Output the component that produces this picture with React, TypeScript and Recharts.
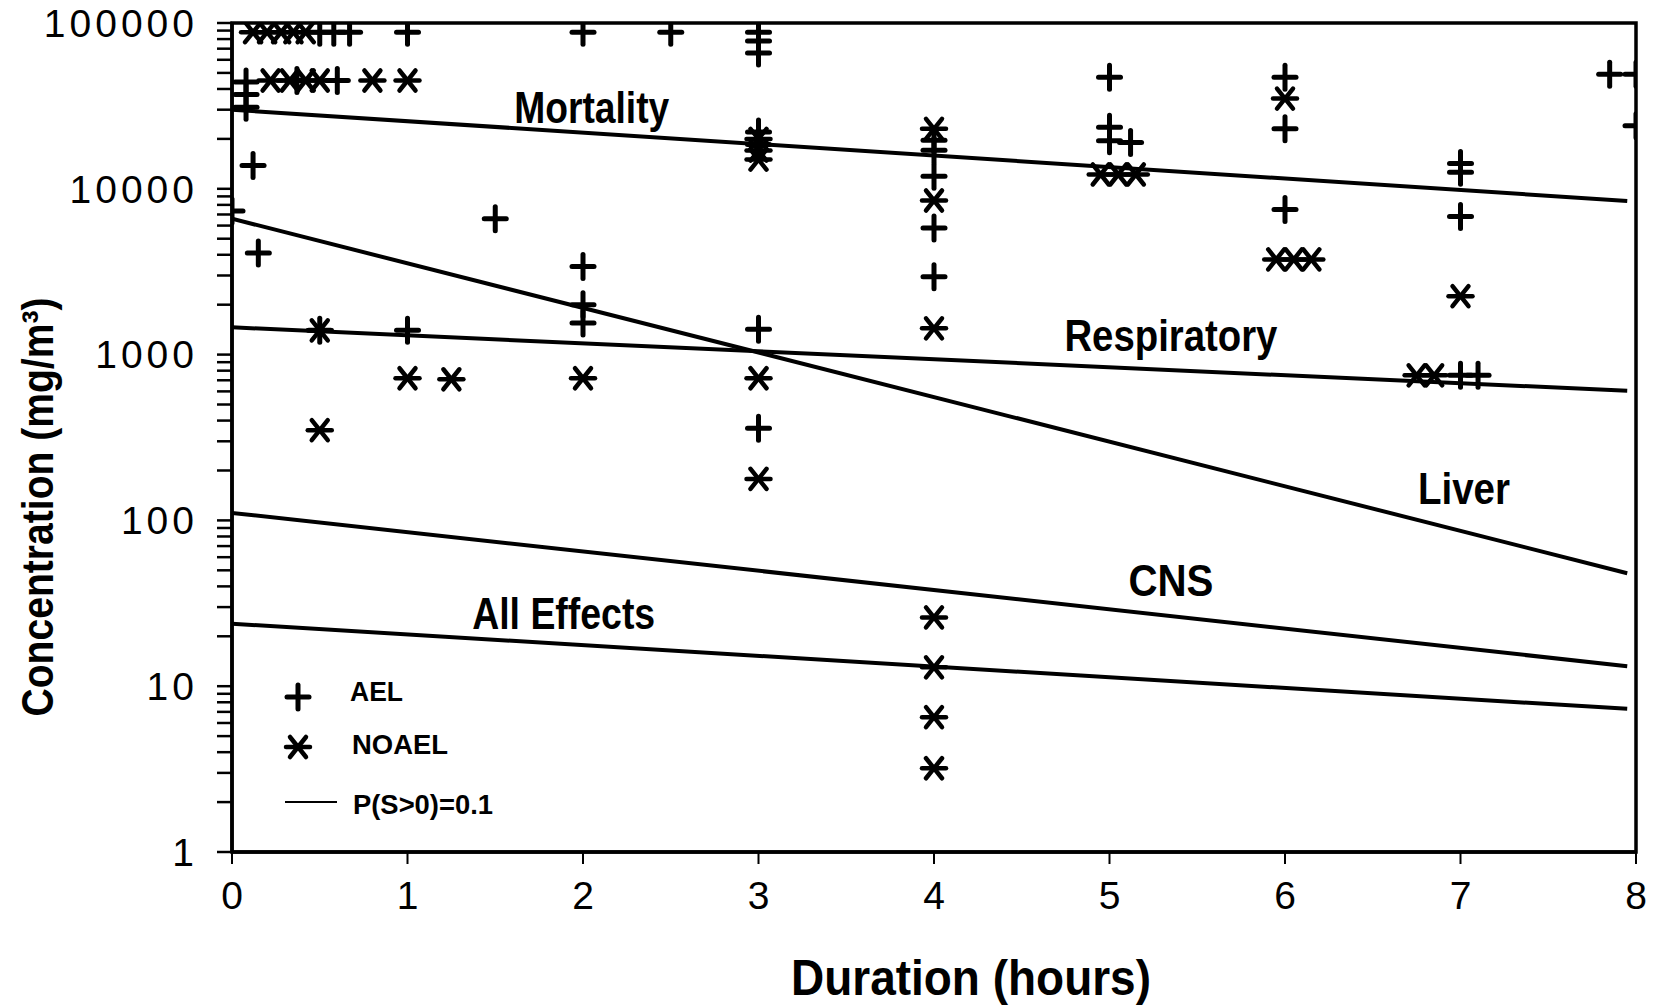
import React from "react";
import { ScatterChart, Scatter, XAxis, YAxis, ReferenceArea, ReferenceDot, Legend } from "recharts";

const font = "'Liberation Sans', Arial, sans-serif";

// axis ticks
const xTicks = [0, 1, 2, 3, 4, 5, 6, 7, 8];
const yDecades = [1, 10, 100, 1000, 10000, 100000];
const yMinorSteps = [2, 3, 4, 5, 6, 7, 8, 9];
const yTicks = [...yDecades.slice(0, -1).flatMap((d) => [d, ...yMinorSteps.map((m) => m * d)]), 100000];

// AEL (+) points: duration (h), concentration (mg/m3)
const aelPoints = [
  { t: 0.08, c: 44000 }, { t: 0.08, c: 37000 }, { t: 0.08, c: 31000 },
  { t: 0.5, c: 88000 }, { t: 0.58, c: 88000 }, { t: 0.67, c: 88000 }, { t: 1, c: 88000 },
  { t: 0.37, c: 45000 }, { t: 0.6, c: 45000 },
  { t: 2, c: 88000 }, { t: 2.5, c: 88000 }, { t: 3, c: 88000 }, { t: 3, c: 78000 }, { t: 3, c: 66000 },
  { t: 0.12, c: 13800 }, { t: 0, c: 7350 }, { t: 0.15, c: 4100 }, { t: 1.5, c: 6600 },
  { t: 2, c: 3400 }, { t: 2, c: 2000 }, { t: 2, c: 1550 }, { t: 0.5, c: 1400 }, { t: 1, c: 1400 },
  { t: 3, c: 1420 }, { t: 3, c: 360 }, { t: 3, c: 22000 }, { t: 3, c: 18500 },
  { t: 4, c: 19600 }, { t: 4, c: 17100 }, { t: 4, c: 11900 }, { t: 4, c: 5800 }, { t: 4, c: 2950 },
  { t: 5, c: 47000 }, { t: 5, c: 23500 }, { t: 5, c: 19500 }, { t: 5.12, c: 19000 },
  { t: 6, c: 47000 }, { t: 6, c: 23000 }, { t: 6, c: 7500 },
  { t: 7, c: 14200 }, { t: 7, c: 12600 }, { t: 7, c: 6800 }, { t: 7, c: 750 }, { t: 7.1, c: 750 },
  { t: 7.85, c: 49000 }, { t: 8, c: 49000 }, { t: 8, c: 24000 },
];

// NOAEL (*) points
const noaelPoints = [
  { t: 0.12, c: 88000 }, { t: 0.2, c: 88000 }, { t: 0.28, c: 88000 }, { t: 0.35, c: 88000 }, { t: 0.42, c: 88000 },
  { t: 0.22, c: 45000 }, { t: 0.33, c: 45000 }, { t: 0.42, c: 45000 }, { t: 0.5, c: 45000 }, { t: 0.8, c: 45000 }, { t: 1, c: 45000 },
  { t: 3, c: 20000 }, { t: 3, c: 17000 }, { t: 3, c: 15000 },
  { t: 4, c: 23000 }, { t: 4, c: 8500 }, { t: 4, c: 1440 }, { t: 4, c: 26 }, { t: 4, c: 13 }, { t: 4, c: 6.5 }, { t: 4, c: 3.2 },
  { t: 4.95, c: 12200 }, { t: 5.05, c: 12200 }, { t: 5.15, c: 12200 },
  { t: 6, c: 35000 }, { t: 5.95, c: 3750 }, { t: 6.05, c: 3750 }, { t: 6.15, c: 3750 },
  { t: 7, c: 2250 }, { t: 6.75, c: 750 }, { t: 6.85, c: 750 },
  { t: 0.5, c: 1400 }, { t: 0.5, c: 350 }, { t: 1, c: 720 }, { t: 1.25, c: 710 }, { t: 2, c: 720 }, { t: 3, c: 720 }, { t: 3, c: 178 },
];

// P(S>0)=0.1 regression lines
const mortalityLine = [{ t: 0, c: 30000 }, { t: 7.95, c: 8450 }];
const liverLine = [{ t: 0, c: 6600 }, { t: 7.95, c: 48 }];
const respiratoryLine = [{ t: 0, c: 1460 }, { t: 7.95, c: 605 }];
const cnsLine = [{ t: 0, c: 111 }, { t: 7.95, c: 13.2 }];
const allEffectsLine = [{ t: 0, c: 23.8 }, { t: 7.95, c: 7.3 }];

const curveLabels = [
  { name: "Mortality", t: 2.05, c: 31100, w: 155 },
  { name: "Respiratory", t: 5.35, c: 1295, w: 213 },
  { name: "Liver", t: 7.02, c: 155, w: 92 },
  { name: "CNS", t: 5.35, c: 43.7, w: 85 },
  { name: "All Effects", t: 1.89, c: 27.3, w: 183 },
];

const PlusMark = ({ cx, cy }: any) => (
  <g stroke="#000" strokeWidth={5} strokeLinecap="round">
    <line x1={cx - 11} y1={cy} x2={cx + 11} y2={cy} />
    <line x1={cx} y1={cy - 12} x2={cx} y2={cy + 12} />
  </g>
);

const StarMark = ({ cx, cy }: any) => (
  <g stroke="#000" strokeWidth={4.5} strokeLinecap="round">
    <line x1={cx - 12} y1={cy} x2={cx + 12} y2={cy} />
    <line x1={cx - 8} y1={cy - 10} x2={cx + 8} y2={cy + 10} />
    <line x1={cx - 8} y1={cy + 10} x2={cx + 8} y2={cy - 10} />
  </g>
);

const NoMark = () => <g />;

const LegendBox = () => (
  <svg width={260} height={170} style={{ overflow: "visible" }}>
    <PlusMark cx={28} cy={37} />
    <text x={80} y={32} dominantBaseline="central" fontFamily={font} fontWeight="bold" fontSize={27} textLength={53} lengthAdjust="spacingAndGlyphs">AEL</text>
    <StarMark cx={28} cy={87} />
    <text x={82} y={85} dominantBaseline="central" fontFamily={font} fontWeight="bold" fontSize={27} textLength={96} lengthAdjust="spacingAndGlyphs">NOAEL</text>
    <line x1={15} y1={142} x2={67} y2={142} stroke="#000" strokeWidth={2} />
    <text x={83} y={145} dominantBaseline="central" fontFamily={font} fontWeight="bold" fontSize={27} textLength={140} lengthAdjust="spacingAndGlyphs">P(S&gt;0)=0.1</text>
  </svg>
);

const lineStyle = { stroke: "#000", strokeWidth: 4 };

export default function App() {
  return (
    <div style={{ position: "absolute", left: 0, top: 0, width: 1655, height: 1007, background: "#fff", fontFamily: font }}>
      <ScatterChart width={1655} height={1007} margin={{ top: 23, right: 19, bottom: 5, left: 0 }}>
        <XAxis
          type="number"
          dataKey="t"
          domain={[0, 8]}
          ticks={xTicks}
          interval={0}
          allowDataOverflow
          height={150}
          tickSize={12}
          tickMargin={17}
          axisLine={{ stroke: "#000", strokeWidth: 3.5 }}
          tickLine={{ stroke: "#000", strokeWidth: 2 }}
          tick={{ fontSize: 39, fill: "#000", fontFamily: font }}
          label={() => (
            <text x={971} y={978} textAnchor="middle" dominantBaseline="central" fontFamily={font} fontWeight="bold" fontSize={50} textLength={360} lengthAdjust="spacingAndGlyphs">
              Duration (hours)
            </text>
          )}
        />
        <YAxis
          type="number"
          dataKey="c"
          scale="log"
          domain={[1, 100000]}
          ticks={yTicks}
          interval={0}
          allowDataOverflow
          width={232}
          tickSize={15}
          tickMargin={19}
          axisLine={{ stroke: "#000", strokeWidth: 3.5 }}
          tickLine={{ stroke: "#000", strokeWidth: 2.5 }}
          tick={{ fontSize: 39, fill: "#000", fontFamily: font, letterSpacing: 4 }}
          tickFormatter={(v: number) => (yDecades.includes(v) ? String(v) : "")}
          label={() => (
            <text x={37} y={507} transform="rotate(-90 37 507)" textAnchor="middle" dominantBaseline="central" fontFamily={font} fontWeight="bold" fontSize={44} textLength={419} lengthAdjust="spacingAndGlyphs">
              Concentration (mg/m³)
            </text>
          )}
        />
        <ReferenceArea x1={0} x2={8} y1={1} y2={100000} fill="none" fillOpacity={0} stroke="#000" strokeWidth={3.5} ifOverflow="visible" />
        <Scatter data={mortalityLine} line={lineStyle} lineType="joint" shape={NoMark} isAnimationActive={false} />
        <Scatter data={liverLine} line={lineStyle} lineType="joint" shape={NoMark} isAnimationActive={false} />
        <Scatter data={respiratoryLine} line={lineStyle} lineType="joint" shape={NoMark} isAnimationActive={false} />
        <Scatter data={cnsLine} line={lineStyle} lineType="joint" shape={NoMark} isAnimationActive={false} />
        <Scatter data={allEffectsLine} line={lineStyle} lineType="joint" shape={NoMark} isAnimationActive={false} />
        <Scatter data={aelPoints} shape={(p: any) => <PlusMark cx={p.cx} cy={p.cy} />} isAnimationActive={false} />
        <Scatter data={noaelPoints} shape={(p: any) => <StarMark cx={p.cx} cy={p.cy} />} isAnimationActive={false} />
        {curveLabels.map((l) => (
          <ReferenceDot
            key={l.name}
            x={l.t}
            y={l.c}
            r={0}
            fill="none"
            stroke="none"
            label={(props: any) => {
              const vb = props.viewBox || {};
              const x = (vb.x ?? 0) + (vb.width ?? 0) / 2;
              const y = (vb.y ?? 0) + (vb.height ?? 0) / 2;
              return (
                <text x={x} y={y} textAnchor="middle" dominantBaseline="central" fontFamily={font} fontWeight="bold" fontSize={44} textLength={l.w} lengthAdjust="spacingAndGlyphs">
                  {l.name}
                </text>
              );
            }}
          />
        ))}
        <Legend
          layout="horizontal"
          verticalAlign="middle"
          align="center"
          wrapperStyle={{ left: 270, top: 660, width: 260, height: 170 }}
          content={() => <LegendBox />}
        />
      </ScatterChart>
    </div>
  );
}
